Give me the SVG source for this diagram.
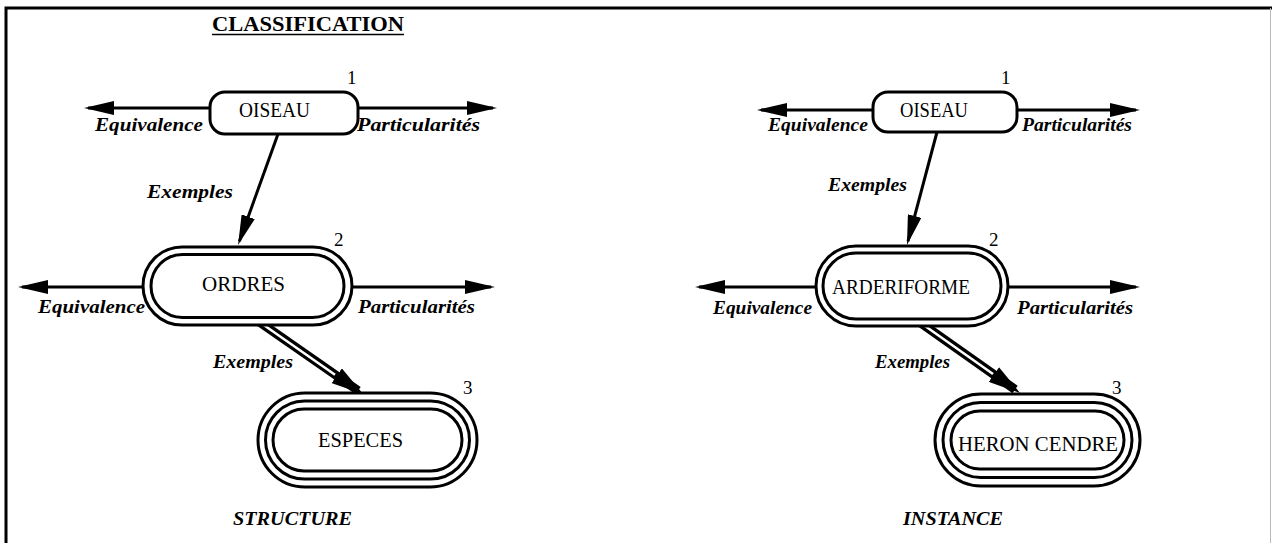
<svg xmlns="http://www.w3.org/2000/svg" width="1272" height="543" viewBox="0 0 1272 543">
<style>
.node{fill:#fff;stroke:#000;stroke-width:3}
.ln{fill:none;stroke:#000;stroke-width:3}
.dbl{fill:none;stroke:#000;stroke-width:9}
.gap{fill:none;stroke:#fff;stroke-width:2.5}
.lbl{font-family:"Liberation Serif",serif;font-size:20px;fill:#000}
.it{font-family:"Liberation Serif",serif;font-size:18px;font-style:italic;font-weight:bold;fill:#000}
.num{font-family:"Liberation Serif",serif;font-size:19px;fill:#000}
.title{font-family:"Liberation Serif",serif;font-size:22px;font-weight:bold;fill:#000}
</style>
<defs>
<marker id="ah" markerWidth="30" markerHeight="14" refX="26" refY="7" orient="auto" markerUnits="userSpaceOnUse"><path d="M0,0 L30,7 L0,14 z" fill="#000"/></marker>
<marker id="ah2" markerWidth="32" markerHeight="18" refX="26" refY="9" orient="auto" markerUnits="userSpaceOnUse"><path d="M0,0 L32,9 L0,18 z" fill="#000"/></marker>
</defs>
<rect width="1272" height="543" fill="#fff"/>
<g id="frame">
<path d="M6,543 L6,8 L1272,8" fill="none" stroke="#000" stroke-width="3"/>
<line x1="1270.5" y1="8" x2="1270.5" y2="543" stroke="#bbb" stroke-width="1"/>
</g>
<g id="title">
<text class="title" x="212" y="31" textLength="192" lengthAdjust="spacingAndGlyphs">CLASSIFICATION</text>
<line x1="212" y1="34.5" x2="404" y2="34.5" stroke="#000" stroke-width="1.5"/>
</g>
<g id="connectors">
<line class="ln" x1="212" y1="108" x2="88" y2="108" marker-end="url(#ah)"/>
<line class="ln" x1="356" y1="108" x2="493" y2="108" marker-end="url(#ah)"/>
<line class="ln" x1="278" y1="134" x2="239.4" y2="241.2" marker-end="url(#ah)"/>
<line class="ln" x1="145" y1="287" x2="22" y2="287" marker-end="url(#ah)"/>
<line class="ln" x1="350" y1="287" x2="491" y2="287" marker-end="url(#ah)"/>
<line class="dbl" x1="258" y1="321" x2="358.1" y2="390.6" marker-end="url(#ah2)"/>
<line class="gap" x1="258" y1="321" x2="335" y2="374.7"/>
<line class="ln" x1="875" y1="110" x2="761" y2="110" marker-end="url(#ah)"/>
<line class="ln" x1="1015" y1="110" x2="1136" y2="110" marker-end="url(#ah)"/>
<line class="ln" x1="937" y1="132" x2="908" y2="241.1" marker-end="url(#ah)"/>
<line class="ln" x1="818" y1="287" x2="699" y2="287" marker-end="url(#ah)"/>
<line class="ln" x1="1006" y1="287" x2="1136" y2="287" marker-end="url(#ah)"/>
<line class="dbl" x1="918" y1="321" x2="1015.1" y2="389.5" marker-end="url(#ah2)"/>
<line class="gap" x1="918" y1="321" x2="993" y2="373.9"/>
</g>
<g id="connector-labels">
<text class="it" x="95" y="131" textLength="108" lengthAdjust="spacingAndGlyphs">Equivalence</text>
<text class="it" x="357" y="131" textLength="123" lengthAdjust="spacingAndGlyphs">Particularités</text>
<text class="it" x="147" y="198" textLength="86" lengthAdjust="spacingAndGlyphs">Exemples</text>
<text class="it" x="38" y="313" textLength="107" lengthAdjust="spacingAndGlyphs">Equivalence</text>
<text class="it" x="358" y="313" textLength="117" lengthAdjust="spacingAndGlyphs">Particularités</text>
<text class="it" x="213" y="368" textLength="80" lengthAdjust="spacingAndGlyphs">Exemples</text>
<text class="it" x="768" y="131" textLength="100" lengthAdjust="spacingAndGlyphs">Equivalence</text>
<text class="it" x="1022" y="131" textLength="110" lengthAdjust="spacingAndGlyphs">Particularités</text>
<text class="it" x="828" y="191" textLength="79" lengthAdjust="spacingAndGlyphs">Exemples</text>
<text class="it" x="713" y="314" textLength="99" lengthAdjust="spacingAndGlyphs">Equivalence</text>
<text class="it" x="1017" y="314" textLength="116" lengthAdjust="spacingAndGlyphs">Particularités</text>
<text class="it" x="875" y="368" textLength="75" lengthAdjust="spacingAndGlyphs">Exemples</text>
</g>
<g id="node-oiseau-1">
<rect class="node" x="210" y="92" width="148" height="42" rx="15"/>
<text class="lbl" x="239" y="117" textLength="71" lengthAdjust="spacingAndGlyphs">OISEAU</text>
<text class="num" x="347" y="84">1</text>
</g>
<g id="node-ordres">
<rect class="node" x="143" y="247" width="209" height="78" rx="39"/>
<rect class="node" x="151" y="254.5" width="193" height="63" rx="31.5"/>
<text class="lbl" x="202" y="291" textLength="83" lengthAdjust="spacingAndGlyphs">ORDRES</text>
<text class="num" x="334" y="246">2</text>
</g>
<g id="node-especes">
<rect class="node" x="258" y="393" width="219" height="94" rx="47"/>
<rect class="node" x="265.5" y="401" width="204" height="78" rx="39"/>
<rect class="node" x="273" y="409" width="189" height="62" rx="31"/>
<text class="lbl" x="318" y="447" textLength="85" lengthAdjust="spacingAndGlyphs">ESPECES</text>
<text class="num" x="463" y="394">3</text>
</g>
<g id="node-oiseau-2">
<rect class="node" x="873" y="92" width="144" height="40" rx="15"/>
<text class="lbl" x="900" y="117" textLength="68" lengthAdjust="spacingAndGlyphs">OISEAU</text>
<text class="num" x="1001" y="84">1</text>
</g>
<g id="node-arderiforme">
<rect class="node" x="816" y="246" width="192" height="80" rx="40"/>
<rect class="node" x="823" y="253" width="178" height="66" rx="33"/>
<text class="lbl" x="832" y="294" textLength="138" lengthAdjust="spacingAndGlyphs">ARDERIFORME</text>
<text class="num" x="989" y="246">2</text>
</g>
<g id="node-heron">
<rect class="node" x="935" y="394" width="205" height="92" rx="46"/>
<rect class="node" x="943" y="402.5" width="189" height="75" rx="37.5"/>
<rect class="node" x="951" y="411" width="173" height="58" rx="29"/>
<text class="lbl" x="958" y="451" textLength="160" lengthAdjust="spacingAndGlyphs">HERON CENDRE</text>
<text class="num" x="1112" y="394">3</text>
</g>
<g id="captions">
<text class="it" x="233" y="525" textLength="119" lengthAdjust="spacingAndGlyphs">STRUCTURE</text>
<text class="it" x="903" y="525" textLength="100" lengthAdjust="spacingAndGlyphs">INSTANCE</text>
</g>
</svg>
